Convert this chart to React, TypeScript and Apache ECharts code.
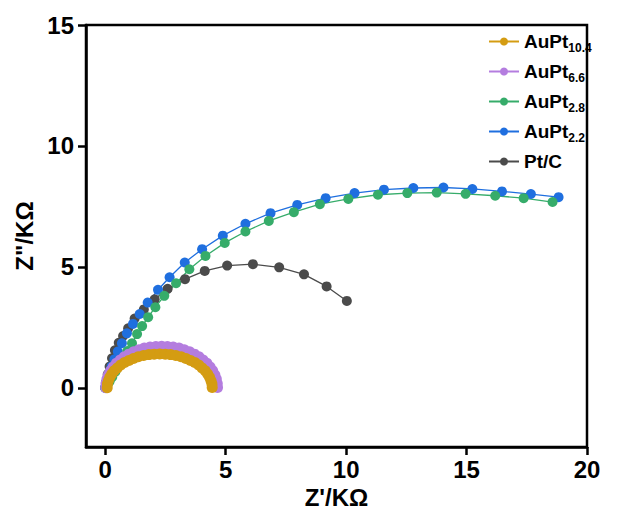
import { useEffect, useRef } from 'react';
import * as echarts from 'echarts';

// Nyquist data: [Z' (kΩ), Z'' (kΩ)]
const legendOrder = ['AuPt10.4', 'AuPt6.6', 'AuPt2.8', 'AuPt2.2', 'Pt/C'];

const auPt104 = [
  [0.08, 0], [0.09, 0.15], [0.13, 0.29], [0.19, 0.43], [0.27, 0.57], [0.37, 0.7],
  [0.5, 0.82], [0.64, 0.94], [0.8, 1.04], [0.98, 1.13], [1.17, 1.21], [1.37, 1.28],
  [1.59, 1.33], [1.81, 1.37], [2.03, 1.39], [2.26, 1.4], [2.49, 1.39], [2.71, 1.37],
  [2.93, 1.33], [3.15, 1.28], [3.35, 1.21], [3.54, 1.13], [3.72, 1.04], [3.88, 0.94],
  [4.02, 0.82], [4.15, 0.7], [4.25, 0.57], [4.33, 0.43], [4.39, 0.29], [4.43, 0.15],
  [4.44, 0.01],
];

const auPt66 = [
  [0.02, 0], [0.03, 0.18], [0.07, 0.36], [0.13, 0.53], [0.22, 0.7], [0.33, 0.86],
  [0.46, 1.01], [0.62, 1.15], [0.79, 1.28], [0.98, 1.39], [1.18, 1.49], [1.4, 1.57],
  [1.62, 1.64], [1.86, 1.68], [2.1, 1.71], [2.34, 1.72], [2.58, 1.71], [2.82, 1.68],
  [3.06, 1.64], [3.28, 1.57], [3.5, 1.49], [3.7, 1.39], [3.89, 1.28], [4.06, 1.15],
  [4.22, 1.01], [4.35, 0.86], [4.46, 0.7], [4.55, 0.53], [4.61, 0.36], [4.65, 0.18],
  [4.66, 0.01],
];

const auPt28 = [
  [0, 0], [0.03, 0.04], [0.09, 0.12], [0.18, 0.26], [0.29, 0.44], [0.42, 0.66],
  [0.57, 0.92], [0.74, 1.21], [0.92, 1.52], [1.11, 1.84], [1.32, 2.22], [1.53, 2.55],
  [1.78, 2.92], [2.08, 3.33], [2.45, 3.8], [2.94, 4.32], [3.49, 4.9], [4.16, 5.45],
  [4.96, 5.99], [5.82, 6.46], [6.79, 6.9], [7.83, 7.26], [8.91, 7.59], [10.09, 7.81],
  [11.32, 7.98], [12.54, 8.05], [13.76, 8.07], [14.96, 8.02], [16.19, 7.94],
  [17.37, 7.84], [18.57, 7.68],
];

const auPt22 = [
  [0, 0], [0.02, 0.08], [0.05, 0.22], [0.1, 0.4], [0.17, 0.62], [0.26, 0.88],
  [0.38, 1.18], [0.52, 1.5], [0.69, 1.84], [0.9, 2.25], [1.15, 2.64], [1.43, 3.05],
  [1.76, 3.52], [2.19, 4.05], [2.67, 4.57], [3.3, 5.18], [4.02, 5.73], [4.88, 6.29],
  [5.82, 6.78], [6.86, 7.22], [7.97, 7.56], [9.15, 7.84], [10.35, 8.05], [11.57, 8.19],
  [12.79, 8.26], [14.04, 8.28], [15.24, 8.22], [16.47, 8.12], [17.67, 8.01],
  [18.82, 7.88],
];

const ptC = [
  [0, 0], [0.04, 0.25], [0.1, 0.55], [0.18, 0.88], [0.28, 1.22], [0.4, 1.55],
  [0.56, 1.86], [0.74, 2.14], [0.95, 2.46], [1.22, 2.86], [1.6, 3.24], [2.05, 3.66],
  [2.59, 4.09], [3.31, 4.49], [4.13, 4.83], [5.06, 5.05], [6.13, 5.11], [7.22, 4.98],
  [8.25, 4.69], [9.19, 4.19], [10.03, 3.59],
];

const xTicks = [0, 5, 10, 15, 20];
const yTicks = [0, 5, 10, 15];

const FONT = '"Liberation Sans", Arial, Helvetica, sans-serif';

// drawn bottom-to-top, so the small semicircles sit above the large arcs
const seriesDefs = [
  { name: 'Pt/C', data: ptC, color: '#4b4b4b', size: 10 },
  { name: 'AuPt2.2', data: auPt22, color: '#1f6fdf', size: 10 },
  { name: 'AuPt2.8', data: auPt28, color: '#36ac6a', size: 10 },
  { name: 'AuPt6.6', data: auPt66, color: '#b47ddf', size: 11 },
  { name: 'AuPt10.4', data: auPt104, color: '#d49c12', size: 11 },
];

export default function App() {
  const ref = useRef<HTMLDivElement>(null);

  useEffect(() => {
    const chart = echarts.init(ref.current!, null, { renderer: 'svg' });
    chart.setOption({
      animation: false,
      backgroundColor: '#ffffff',
      textStyle: { fontFamily: FONT },
      grid: {
        left: 86,
        right: 40,
        top: 25,
        bottom: 72,
        show: true,
        borderColor: '#000',
        borderWidth: 2.5,
        containLabel: false,
      },
      legend: {
        orient: 'vertical',
        left: 488,
        top: 32,
        padding: 0,
        itemWidth: 30,
        itemHeight: 10,
        itemGap: 8,
        data: legendOrder,
        formatter: (name: string) =>
          name.startsWith('AuPt') ? `{m|AuPt}{s|${name.slice(4)}}` : `{m|${name}}`,
        textStyle: {
          fontFamily: FONT,
          color: '#000',
          rich: {
            m: { fontSize: 19, fontWeight: 'bold', color: '#000', lineHeight: 21, verticalAlign: 'middle', fontFamily: FONT },
            s: { fontSize: 12, fontWeight: 'bold', color: '#000', lineHeight: 25, verticalAlign: 'bottom', fontFamily: FONT },
          },
        },
      },
      xAxis: {
        type: 'value',
        min: -0.8,
        max: 20,
        name: "Z'/KΩ",
        nameLocation: 'middle',
        nameGap: 38,
        nameTextStyle: { fontSize: 24, fontWeight: 'bold', color: '#000', fontFamily: FONT },
        axisLine: { show: true, onZero: false, lineStyle: { color: '#000', width: 2.5 } },
        axisTick: { show: true, length: 8, inside: false, customValues: xTicks, lineStyle: { color: '#000', width: 2.5 } },
        axisLabel: { customValues: xTicks, fontSize: 24, fontWeight: 'bold', color: '#000', margin: 10, fontFamily: FONT },
        splitLine: { show: false },
      },
      yAxis: {
        type: 'value',
        min: -2.45,
        max: 15,
        name: 'Z"/KΩ',
        nameLocation: 'middle',
        nameGap: 50,
        nameTextStyle: { fontSize: 24, fontWeight: 'bold', color: '#000', fontFamily: FONT },
        axisLine: { show: true, onZero: false, lineStyle: { color: '#000', width: 2.5 } },
        axisTick: { show: true, length: 8, inside: false, customValues: yTicks, lineStyle: { color: '#000', width: 2.5 } },
        axisLabel: { customValues: yTicks, fontSize: 24, fontWeight: 'bold', color: '#000', margin: 12, fontFamily: FONT },
        splitLine: { show: false },
      },
      series: seriesDefs.map((s) => ({
        name: s.name,
        type: 'line',
        data: s.data,
        symbol: 'circle',
        symbolSize: s.size,
        showSymbol: true,
        showAllSymbol: true,
        lineStyle: { color: s.color, width: 1.3 },
        itemStyle: { color: s.color },
        emphasis: { disabled: true },
      })),
    });
    return () => chart.dispose();
  }, []);

  return (
    <div
      ref={ref}
      style={{ position: 'absolute', left: 0, top: 0, width: 627, height: 519, background: '#fff' }}
    />
  );
}
